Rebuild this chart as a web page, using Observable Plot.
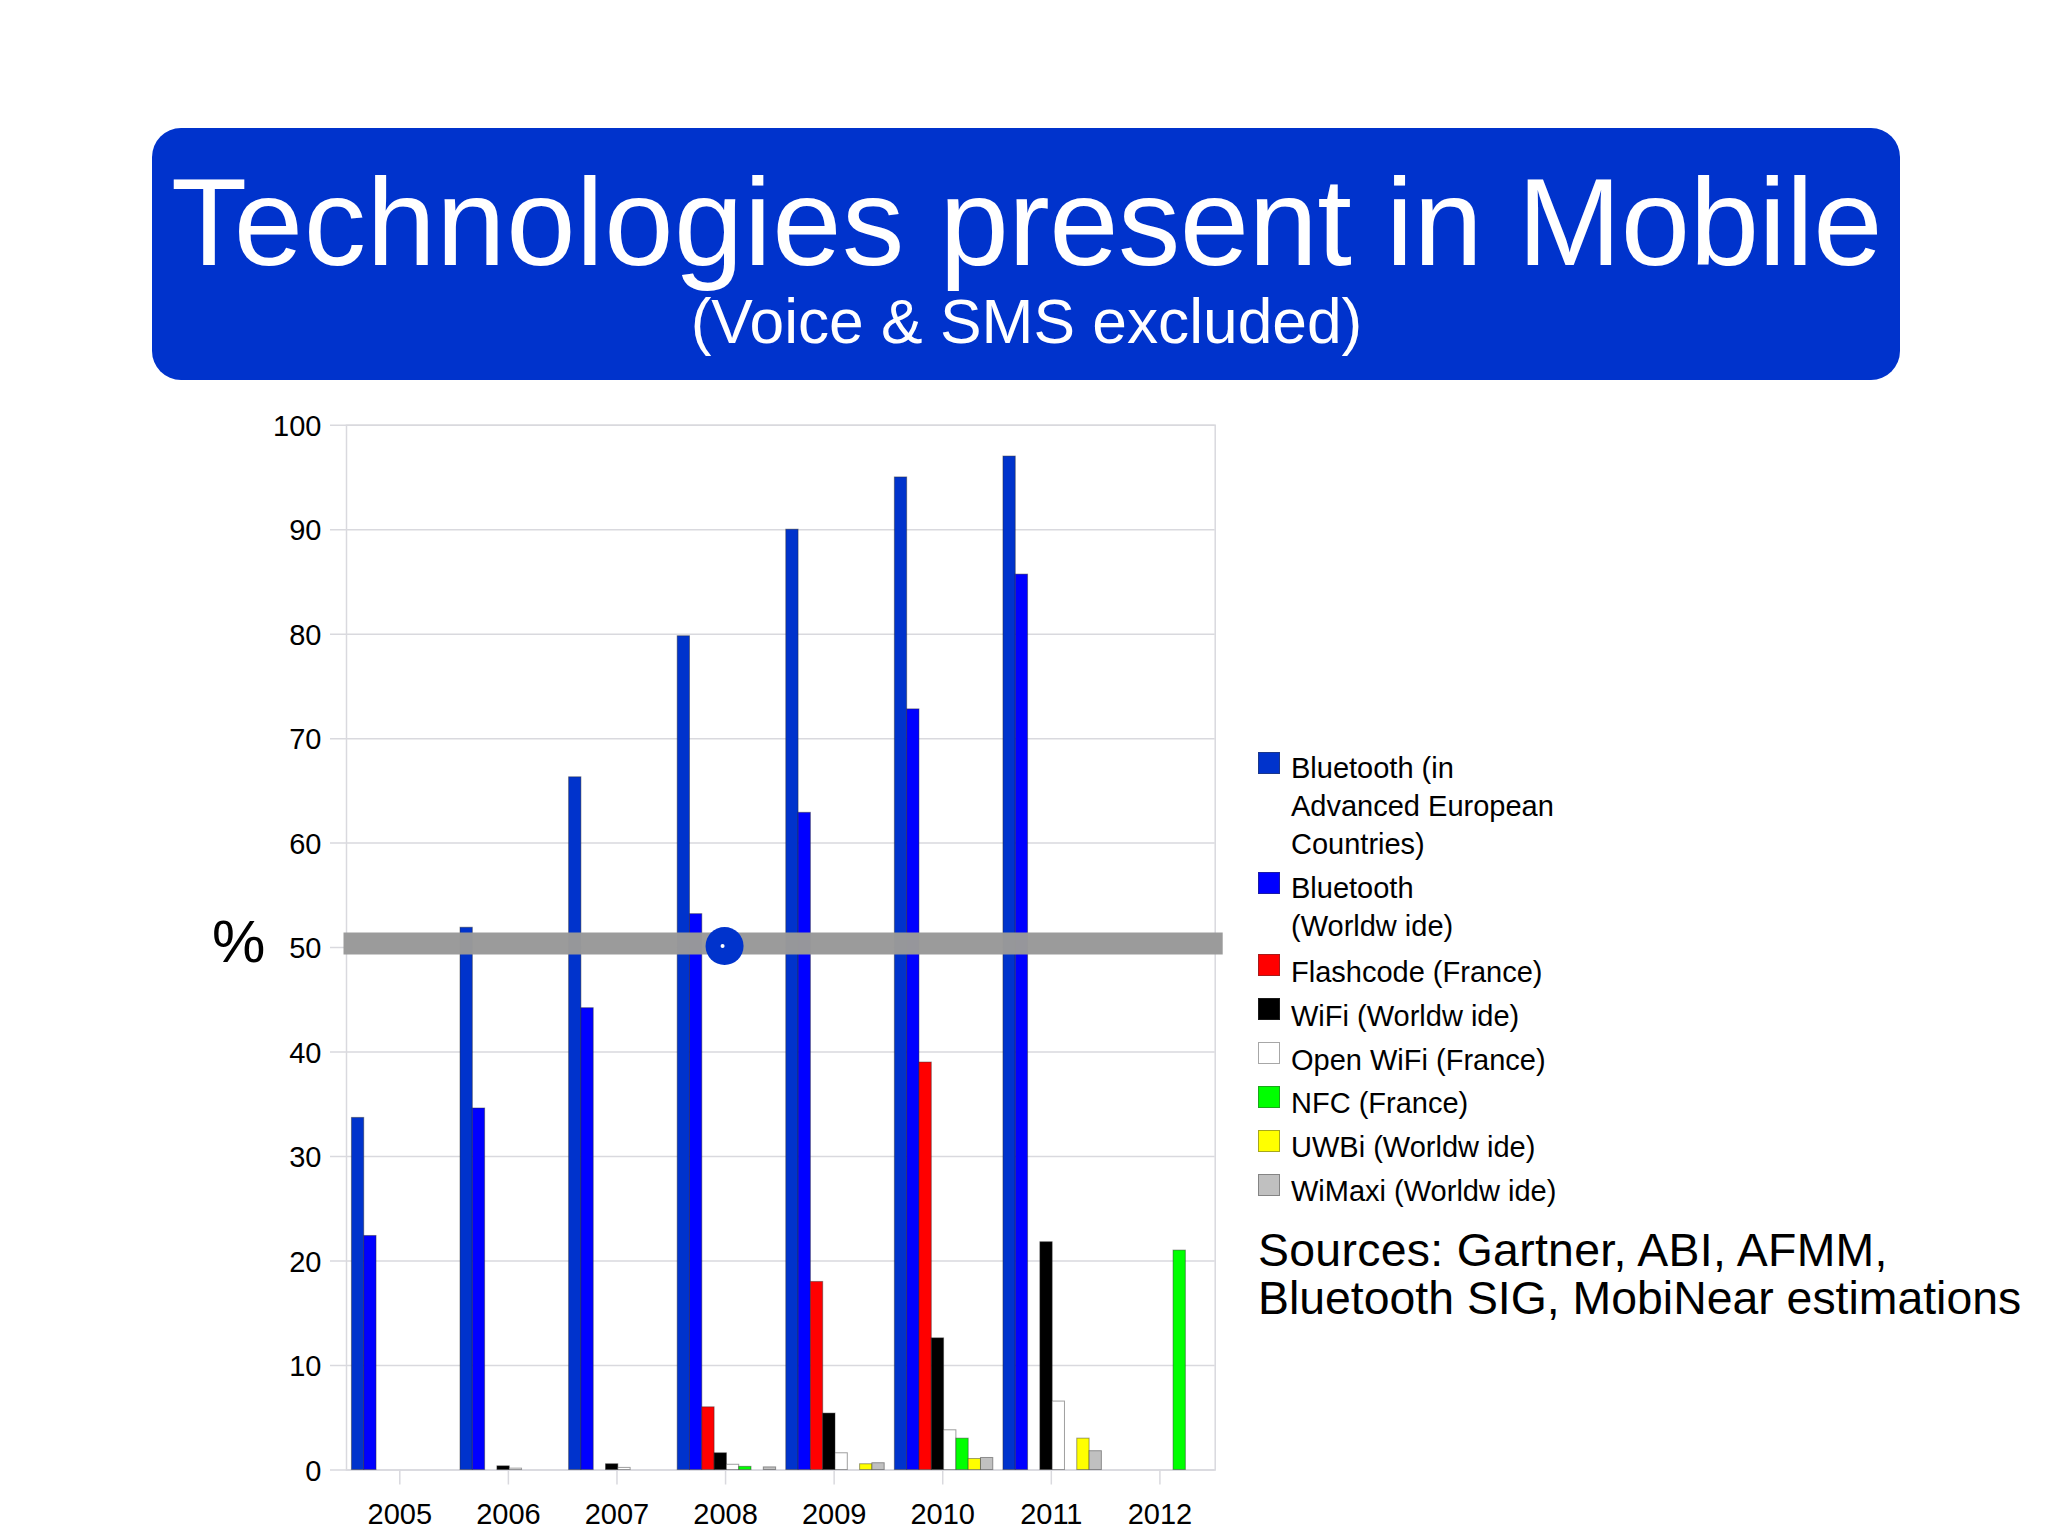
<!DOCTYPE html>
<html><head><meta charset="utf-8">
<script src="https://cdn.jsdelivr.net/npm/d3@7"></script>
<script src="https://cdn.jsdelivr.net/npm/@observablehq/plot@0.6"></script>
<style>
html,body{margin:0;padding:0;background:#fff;width:2048px;height:1535px;overflow:hidden;font-family:"Liberation Sans",Arial,sans-serif;color:#000}
.abs{position:absolute;white-space:nowrap}
#box{left:152px;top:128px;width:1748px;height:252px;background:#0033cc;border-radius:29px}
#title,#sub{left:152px;width:1749px;text-align:center;color:#fff}
#title{top:160px;font-size:124.6px;line-height:124px}
#title .a{letter-spacing:.55px}
#title .b{letter-spacing:-.55px}
#title .c{letter-spacing:-.4px}
#sub{top:289px;font-size:62.3px;line-height:65px}
#pct{left:212px;top:902px;font-size:60px;line-height:80px}
#chart{left:0;top:400px}
#legend{left:1258px;top:750px;width:400px;font-size:29px;line-height:38px}
.item{position:relative;padding-left:33px;margin-bottom:6px;white-space:pre-line}
.sw{position:absolute;left:0;top:2px;width:22px;height:22px;border:1px solid rgba(60,60,60,.45);box-sizing:border-box}
.item:nth-child(-n+2){top:-1.5px}
.item:nth-child(-n+2) .sw{top:3.5px}
.item:nth-child(n+3):nth-child(-n+5){top:.5px}
.item:nth-child(n+3):nth-child(-n+5) .sw{top:1.5px}
#src{left:1258px;top:1226px;font-size:46.4px;line-height:48px;white-space:pre-line}
#src .a{letter-spacing:.3px}
</style></head><body>
<div class="abs" id="box"></div>
<div class="abs" id="title"><span class="a">Technologies</span> <span class="b">present</span> in <span class="c">Mobile</span></div>
<div class="abs" id="sub">(Voice &amp; SMS excluded)</div>
<div class="abs" id="pct">%</div>
<div class="abs" id="chart"></div>
<div class="abs" id="legend"></div>
<div class="abs" id="src"><span class="a">Sources: Gartner, ABI, AFMM,</span>
Bluetooth SIG, MobiNear estimations</div>
<script>
const years = [2005, 2006, 2007, 2008, 2009, 2010, 2011, 2012];
const seriesNames = ["Bluetooth (in\nAdvanced European\nCountries)", "Bluetooth\n(Worldw ide)", "Flashcode (France)", "WiFi (Worldw ide)", "Open WiFi (France)", "NFC (France)", "UWBi (Worldw ide)", "WiMaxi (Worldw ide)"];
const seriesColors = ["#0033cc", "#0000ff", "#ff0000", "#000000", "#ffffff", "#00ff00", "#ffff00", "#c0c0c0"];
const bluetoothEurope = [33.7, 51.9, 66.3, 79.8, 90, 95, 97, null];
const bluetoothWorld = [22.4, 34.6, 44.2, 53.2, 62.9, 72.8, 85.7, null];
const flashcode = [null, null, null, 6, 18, 39, null, null];
const wifi = [null, 0.35, 0.55, 1.6, 5.4, 12.6, 21.8, null];
const openWifi = [null, 0.13, 0.2, 0.5, 1.6, 3.8, 6.55, null];
const nfc = [null, null, null, 0.3, null, 3, null, 21];
const uwb = [null, null, null, null, 0.55, 1.05, 3, null];
const wimax = [null, null, null, 0.25, 0.65, 1.15, 1.8, null];
const seriesValues = [bluetoothEurope, bluetoothWorld, flashcode, wifi, openWifi, nfc, uwb, wimax];
const yTicks = [0, 10, 20, 30, 40, 50, 60, 70, 80, 90, 100];
const bandValue = 50.4;
const markerValue = 50.15;
const markerYear = 2008;

// each year spans one unit of the x scale; the eight series share it side by side
const slot = 0.1133, lead = 0.05;
const rows = seriesNames.flatMap((s, i) => years.map((year, j) => ({
  series: s, value: seriesValues[i][j],
  x1: year - 0.5 + lead + i * slot, x2: year - 0.5 + lead + (i + 1) * slot
}))).filter(d => d.value != null);
const gridC = "#d9d9de";
const chart = Plot.plot({
  width: 1240, height: 1135,
  marginLeft: 346, marginRight: 25.3, marginTop: 24.7, marginBottom: 65.5,
  style: {fontFamily: '"Liberation Sans",Arial,sans-serif', background: "transparent", color: "#000"},
  x: {type: "linear", domain: [years[0] - 0.5, years[years.length - 1] + 0.5], label: null},
  y: {domain: [0, 100], label: null},
  color: {domain: seriesNames, range: seriesColors},
  marks: [
    Plot.ruleY(yTicks, {y: d => d, stroke: gridC, strokeWidth: 1.5, insetLeft: -16}),
    Plot.frame({stroke: gridC, strokeWidth: 1.5}),
    Plot.axisY({ticks: yTicks, anchor: "left", label: null, tickSize: 0, tickPadding: 25, fontSize: 29, fill: "#000", dy: 1.5}),
    Plot.axisX({ticks: years, anchor: "bottom", label: null, tickSize: 15, tickPadding: 18, fontSize: 29, fill: "#000", stroke: gridC, strokeWidth: 1.5, dx: -1, tickFormat: d => String(d)}),
    Plot.rectY(rows, {x1: "x1", x2: "x2", y: "value", fill: "series", stroke: "#2a2a2a", strokeOpacity: 0.45, strokeWidth: 1}),
    Plot.ruleY([bandValue], {stroke: "#999999", strokeOpacity: 0.98, strokeWidth: 22, insetLeft: -2.5, insetRight: -8}),
    Plot.dot([markerYear], {x: d => d, y: () => markerValue, r: 19, fill: "#0033cc", dx: -2}),
    Plot.dot([markerYear], {x: d => d, y: () => markerValue, r: 2, fill: "#fff", dx: -4})
  ]
});
document.getElementById("chart").append(chart);
const legend = document.getElementById("legend");
seriesNames.forEach((s, i) => {
  const it = document.createElement("div"); it.className = "item"; it.textContent = s;
  const sw = document.createElement("span"); sw.className = "sw"; sw.style.background = seriesColors[i];
  it.prepend(sw); legend.append(it);
});
</script></body></html>
